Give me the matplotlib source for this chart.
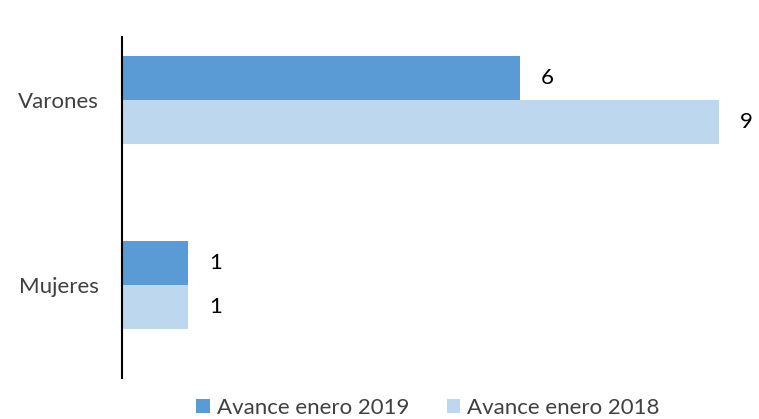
import matplotlib
matplotlib.use("Agg")
import matplotlib.pyplot as plt
import numpy as np

plt.rcParams['font.family'] = ['Lato', 'DejaVu Sans']

categories = ["Mujeres", "Varones"]
series_names = ["Avance enero 2019", "Avance enero 2018"]
values_2019 = [1, 6]
values_2018 = [1, 9]
colors = ["#5B9BD5", "#BDD7EE"]

fig = plt.figure(figsize=(7.59, 4.19), dpi=100)
ax = fig.add_axes([122 / 759, 41 / 419, 663 / 759, 341 / 419])

y = np.arange(len(categories))
h = 0.238

bars1 = ax.barh(y + h / 2, values_2019, height=h, color=colors[0], label=series_names[0])
bars2 = ax.barh(y - h / 2, values_2018, height=h, color=colors[1], label=series_names[1])

# value labels right of each bar
for bars in (bars1, bars2):
    for b in bars:
        ax.annotate(str(int(b.get_width())), (b.get_width(), b.get_y() + b.get_height() / 2),
                    xytext=(21, 0), textcoords="offset pixels",
                    ha="left", va="center", fontsize=16, color="#000000")

ax.set_xlim(0, 10)
ax.set_ylim(-0.503, 1.34)
ax.set_yticks(y)
ax.set_yticklabels(categories, fontsize=16, color="#404040")
ax.tick_params(axis="y", length=0, pad=16.5)
ax.set_xticks([])
for s in ["top", "right", "bottom"]:
    ax.spines[s].set_visible(False)
ax.spines["left"].set_linewidth(1.5)
ax.spines["left"].set_color("black")

fig.legend(handles=[bars1, bars2], labels=series_names, loc="center",
           bbox_to_anchor=(428 / 759, 1 - 408 / 419), ncol=2, frameon=False,
           fontsize=16, handlelength=0.6, handleheight=0.6, handletextpad=0.32,
           columnspacing=1.7, labelcolor="#404040")

fig.savefig("out.png", dpi=100)
